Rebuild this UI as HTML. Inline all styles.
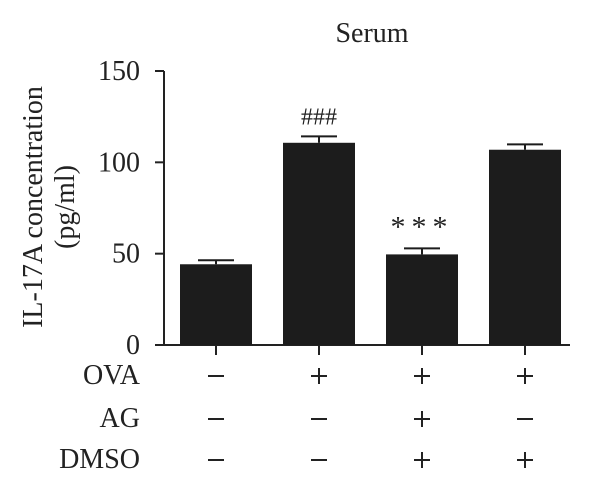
<!DOCTYPE html>
<html><head><meta charset="utf-8"><style>
html,body{margin:0;padding:0;background:#fff;}
svg text{font-family:"Liberation Serif",serif;fill:#222;}
</style></head><body>
<svg width="600" height="490" viewBox="0 0 600 490" xmlns="http://www.w3.org/2000/svg">
<text x="372" y="42" font-size="28" text-anchor="middle">Serum</text>
<g transform="translate(52,207) rotate(-90)">
<text x="0" y="-10" font-size="28" text-anchor="middle">IL-17A concentration</text>
<text x="0" y="22" font-size="28" text-anchor="middle">(pg/ml)</text>
</g>
<g id="axes"></g>
<g id="bars"></g>
<g id="table"></g>
</svg>
<script>
const categories = ["G1","G2","G3","G4"];
const values = [44.2, 110.7, 49.6, 106.9];
const errors = [2.2, 3.5, 3.3, 2.9];
const annotations = ["", "###", "***", ""];
const yTicks = [0, 50, 100, 150];
const rowLabels = ["OVA","AG","DMSO"];
const ova = ["−","+","+","+"];
const ag = ["−","−","+","−"];
const dmso = ["−","−","+","+"];

const NS = "http://www.w3.org/2000/svg";
const y0 = 345, yTop = 71, yMax = 150;
const y = v => y0 - v / yMax * (y0 - yTop);
const x = i => 216 + i * 103;
const bw = 72;
function mk(tag, attrs, parent){const e=document.createElementNS(NS,tag);for(const k in attrs)e.setAttribute(k,attrs[k]);parent.appendChild(e);return e;}

const axes = document.getElementById('axes');
let ax = mk('line',{x1:164,y1:yTop,x2:164,y2:y0,stroke:'#222','stroke-width':2},axes);


let bx = mk('line',{x1:155,y1:y0,x2:570,y2:y0,stroke:'#222','stroke-width':2},axes);


yTicks.forEach(t=>{
  const tk = mk('line',{x1:155,y1:y(t),x2:164,y2:y(t),stroke:'#222','stroke-width':2},axes);
  
  
  const tl = mk('text',{x:140,y:y(t)+9,'font-size':28,'text-anchor':'end'},axes);
  tl.textContent = t;
  
  
});
categories.forEach((c,i)=>{
  const tk = mk('line',{x1:x(i),y1:y0,x2:x(i),y2:y0+10,stroke:'#222','stroke-width':2},axes);
  
  
});

const bars = document.getElementById('bars');
values.forEach((v,i)=>{
  const r = mk('rect',{x:x(i)-bw/2,y:y(v),width:bw,height:y0-y(v),fill:'#1c1c1c'},bars);
  
  
  const et = y(v+errors[i]);
  const e1 = mk('line',{x1:x(i),y1:y(v),x2:x(i),y2:et,stroke:'#1c1c1c','stroke-width':2},bars);
  
  
  const e2 = mk('line',{x1:x(i)-18,y1:et,x2:x(i)+18,y2:et,stroke:'#1c1c1c','stroke-width':2},bars);
  
  
  if(annotations[i]){
    const a = mk('text',{x:x(i),y:et-12,'font-size':annotations[i]==='***'?30:24,'text-anchor':'middle','letter-spacing':annotations[i]==='***'?6:0},bars);
    a.textContent = annotations[i];
    
    
  }
});

const table = document.getElementById('table');
const rows = [ova, ag, dmso];
const rowY = [376, 419, 460];
rowLabels.forEach((l,r)=>{
  const t = mk('text',{x:140,y:rowY[r]+8,'font-size':28,'text-anchor':'end'},table);
  t.textContent = l;
  
  
  rows[r].forEach((s,i)=>{
    const h = mk('line',{x1:x(i)-8,y1:rowY[r],x2:x(i)+8,y2:rowY[r],stroke:'#222','stroke-width':2},table);
    
    
    if(s==='+'){
      const v = mk('line',{x1:x(i),y1:rowY[r]-8,x2:x(i),y2:rowY[r]+8,stroke:'#222','stroke-width':2},table);
      
      
    }
  });
});
</script>
</body></html>
